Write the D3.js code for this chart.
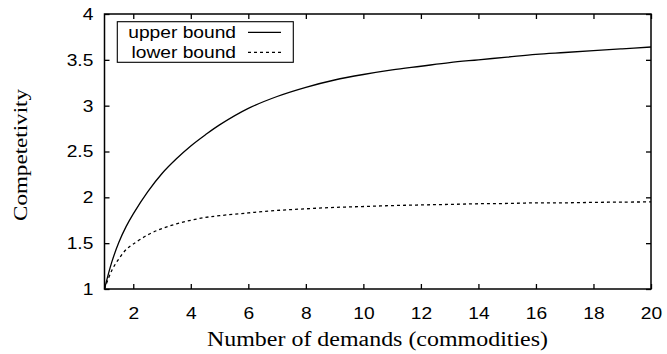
<!DOCTYPE html>
<html>
<head>
<meta charset="utf-8">
<script src="https://cdn.jsdelivr.net/npm/d3@7"></script>
<style>
  html, body { margin: 0; padding: 0; background: #fff; }
  svg { display: block; }
</style>
</head>
<body>
<svg id="chart" width="667" height="354"></svg>
<script>
// ---- data ----
const demands = [1, 1.25, 1.5, 1.75, 2, 2.5, 3, 3.5, 4, 4.5, 5, 6, 7, 8, 9, 10, 11, 12, 13, 14, 15, 16, 17, 18, 19, 20];
const upperBound = [1.00, 1.29, 1.51, 1.68, 1.82, 2.06, 2.26, 2.42, 2.56, 2.68, 2.79, 2.97, 3.10, 3.20, 3.28, 3.34, 3.39, 3.43, 3.47, 3.50, 3.53, 3.56, 3.58, 3.60, 3.62, 3.64];
const lowerBound = [1.00, 1.20, 1.33, 1.43, 1.49, 1.59, 1.66, 1.71, 1.75, 1.78, 1.80, 1.83, 1.857, 1.875, 1.89, 1.90, 1.91, 1.917, 1.923, 1.93, 1.933, 1.94, 1.94, 1.945, 1.948, 1.95];
const xTicks = [2, 4, 6, 8, 10, 12, 14, 16, 18, 20];
const yTicks = [1, 1.5, 2, 2.5, 3, 3.5, 4];
const seriesNames = ["upper bound", "lower bound"];
const xLabel = "Number of demands (commodities)";
const yLabel = "Competetivity";

// ---- layout ----
const L = 104.5, R = 651, T = 14, B = 289;
const SX = 1.2; // horizontal glyph stretch seen in reference
const svg = d3.select("#chart");
const x = d3.scaleLinear().domain([1, 20]).range([L, R]);
const y = d3.scaleLinear().domain([1, 4]).range([B, T]);
const fmt = d => String(d);

// bottom axis
const gB = svg.append("g").attr("transform", `translate(0,${B})`)
  .call(d3.axisBottom(x).tickValues(xTicks).tickFormat(fmt).tickSizeInner(-5).tickSizeOuter(0).tickPadding(19));
// left axis
const gL = svg.append("g").attr("transform", `translate(${L},0)`)
  .call(d3.axisLeft(y).tickValues(yTicks).tickFormat(fmt).tickSizeInner(-5).tickSizeOuter(0));
// mirrored ticks
const gT = svg.append("g").attr("transform", `translate(0,${T})`)
  .call(d3.axisTop(x).tickValues(xTicks).tickFormat("").tickSizeInner(-5).tickSizeOuter(0));
const gR = svg.append("g").attr("transform", `translate(${R},0)`)
  .call(d3.axisRight(y).tickValues(yTicks).tickFormat("").tickSizeInner(-5).tickSizeOuter(0));

[gB, gL, gT, gR].forEach(g => {
  g.select(".domain").remove();
  g.selectAll(".tick line").attr("stroke", "#000").attr("stroke-width", 1.3);
  g.selectAll(".tick text")
    .attr("fill", "#000")
    .style("font-family", "'Liberation Sans', Arial, sans-serif")
    .style("font-size", "16px");
});
gB.selectAll(".tick text").attr("transform", `scale(${SX},1)`);
gL.selectAll(".tick text").attr("x", -11.2 / SX).attr("dy", "0.34em").attr("transform", `scale(${SX},1)`);

// frame
svg.append("rect").attr("x", L).attr("y", T).attr("width", R - L).attr("height", B - T)
  .attr("fill", "none").attr("stroke", "#000").attr("stroke-width", 1.5);

// curves
const line = d3.line().x((d, i) => x(demands[i])).y(d => y(d)).curve(d3.curveCatmullRom.alpha(0.5));
svg.append("path").datum(upperBound).attr("d", line)
  .attr("fill", "none").attr("stroke", "#000").attr("stroke-width", 1.3);
svg.append("path").datum(lowerBound).attr("d", line)
  .attr("fill", "none").attr("stroke", "#000").attr("stroke-width", 1.3).attr("stroke-dasharray", "3,3");

// legend
const lg = svg.append("g");
lg.append("rect").attr("x", 117.3).attr("y", 21.7).attr("width", 176).attr("height", 40.6)
  .attr("fill", "#fff").attr("stroke", "#000").attr("stroke-width", 1.1);
const rows = [{name: seriesNames[0], dash: null, base: 38.3, ly: 32.3},
              {name: seriesNames[1], dash: "3,3", base: 58.3, ly: 52.3}];
rows.forEach(r => {
  lg.append("text").attr("transform", `translate(236,${r.base}) scale(${SX},1)`)
    .attr("text-anchor", "end")
    .style("font-family", "'Liberation Sans', Arial, sans-serif").style("font-size", "16px")
    .text(r.name);
  const l = lg.append("line").attr("x1", 248).attr("x2", 281).attr("y1", r.ly).attr("y2", r.ly)
    .attr("stroke", "#000").attr("stroke-width", 1.3);
  if (r.dash) l.attr("stroke-dasharray", r.dash);
});

// axis titles
svg.append("text").attr("x", 207).attr("y", 345.5)
  .attr("textLength", 341).attr("lengthAdjust", "spacingAndGlyphs")
  .style("font-family", "'Liberation Serif', 'Times New Roman', serif").style("font-size", "20px")
  .text(xLabel);
svg.append("text").attr("transform", "translate(26.5,221) rotate(-90)")
  .attr("x", 0).attr("y", 0)
  .attr("textLength", 132).attr("lengthAdjust", "spacingAndGlyphs")
  .style("font-family", "'Liberation Serif', 'Times New Roman', serif").style("font-size", "19px")
  .text(yLabel);
</script>
</body>
</html>
